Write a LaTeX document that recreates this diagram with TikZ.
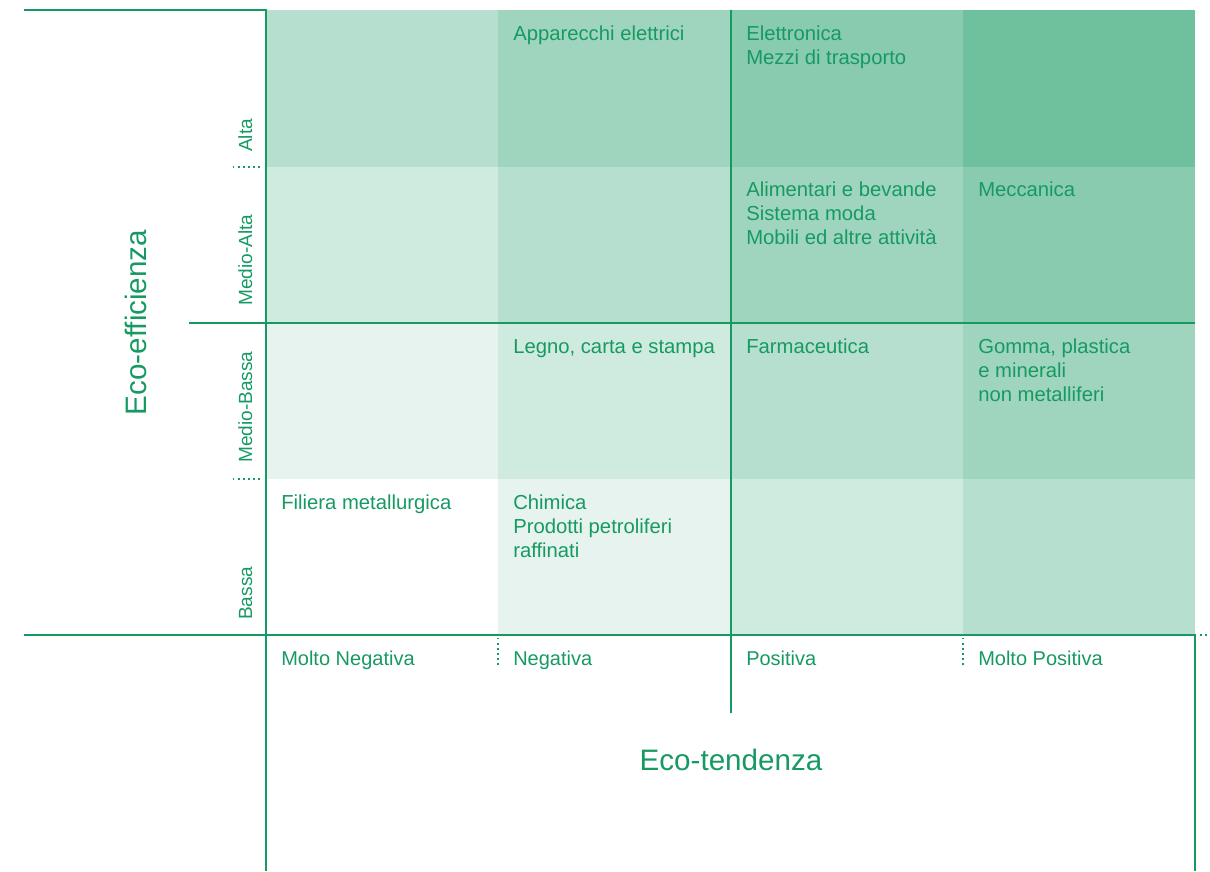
\documentclass[tikz,border=0pt]{standalone}
\usepackage{fontspec}
\setmainfont{Liberation Sans}
\definecolor{eco}{RGB}{22,154,98}
\definecolor{lv1}{HTML}{E6F3EE}
\definecolor{lv2}{HTML}{CFEADF}
\definecolor{lv3}{HTML}{B6DFCF}
\definecolor{lv4}{HTML}{9FD5BF}
\definecolor{lv5}{HTML}{88CBAE}
\definecolor{lv6}{HTML}{6FC09D}
\begin{document}
\begin{tikzpicture}[x=0.75pt,y=-0.75pt,
  axisline/.style={draw=eco,line width=1.5pt},
  dotline/.style={draw=eco,line width=1.2pt,dash pattern=on 1.1pt off 2.7pt},
  celltext/.style={anchor=north west,inner sep=0pt,align=left,text=eco,font=\fontsize{15.2}{18}\selectfont},
  collabel/.style={anchor=north west,inner sep=0pt,text=eco,font=\fontsize{15}{18}\selectfont},
  rowlabel/.style={anchor=base west,rotate=90,inner sep=0pt,text=eco,font=\fontsize{14.3}{17}\selectfont},
  axistitle/.style={anchor=base,inner sep=0pt,text=eco,font=\fontsize{22.2}{26}\selectfont}]
\useasboundingbox (0,0) rectangle (1210,871);
% cell fills
\fill[lv3] (266,10) rectangle (498,167);
\fill[lv4] (498,10) rectangle (731,167);
\fill[lv5] (731,10) rectangle (963,167);
\fill[lv6] (963,10) rectangle (1195,167);
\fill[lv2] (266,167) rectangle (498,323);
\fill[lv3] (498,167) rectangle (731,323);
\fill[lv4] (731,167) rectangle (963,323);
\fill[lv5] (963,167) rectangle (1195,323);
\fill[lv1] (266,323) rectangle (498,479);
\fill[lv2] (498,323) rectangle (731,479);
\fill[lv3] (731,323) rectangle (963,479);
\fill[lv4] (963,323) rectangle (1195,479);
\fill[lv1] (498,479) rectangle (731,635);
\fill[lv2] (731,479) rectangle (963,635);
\fill[lv3] (963,479) rectangle (1195,635);
% coordinates
\coordinate (tl) at (24,10);
\coordinate (tc) at (266,10);
\coordinate (lb) at (266,871);
\coordinate (ml) at (189,323);
\coordinate (mr) at (1195,323);
\coordinate (bl) at (24,635);
\coordinate (br) at (1195,635);
\coordinate (brr) at (1210,635);
\coordinate (rb) at (1195,871);
\coordinate (vt) at (731,10);
\coordinate (vb) at (731,713);
\coordinate (d1a) at (233,167);
\coordinate (d1b) at (263,167);
\coordinate (d2a) at (233,479);
\coordinate (d2b) at (263,479);
\coordinate (d3a) at (498,638);
\coordinate (d3b) at (498,668);
\coordinate (d4a) at (963,638);
\coordinate (d4b) at (963,668);
% lines
\draw[axisline] (tl) -- (tc) -- (lb);
\draw[axisline] (ml) -- (mr);
\draw[axisline] (bl) -- (br) -- (rb);
\draw[axisline] (vt) -- (vb);
\draw[dotline] (br) -- (brr);
\draw[dotline] (d1a) -- (d1b);
\draw[dotline] (d2a) -- (d2b);
\draw[dotline] (d3a) -- (d3b);
\draw[dotline] (d4a) -- (d4b);
% cell texts
\node[celltext] (app) at (513,25.5) {Apparecchi elettrici};
\node[celltext] (ele) at (746,25.5) {Elettronica\\Mezzi di trasporto};
\node[celltext] (ali) at (746,181.5) {Alimentari e bevande\\Sistema moda\\Mobili ed altre attività};
\node[celltext] (mec) at (978,181.5) {Meccanica};
\node[celltext] (leg) at (513,339) {Legno, carta e stampa};
\node[celltext] (far) at (746,339) {Farmaceutica};
\node[celltext] (gom) at (978,339) {Gomma, plastica\\e minerali\\non metalliferi};
\node[celltext] (fil) at (281,494.5) {Filiera metallurgica};
\node[celltext] (chi) at (513,494.5) {Chimica\\Prodotti petroliferi\\raffinati};
% column labels
\node[collabel] (mn) at (281,651) {Molto Negativa};
\node[collabel] (ng) at (513,651) {Negativa};
\node[collabel] (ps) at (746,651) {Positiva};
\node[collabel] (mp) at (978,651) {Molto Positiva};
% row labels
\node[rowlabel] (alta) at (252,152) {Alta};
\node[rowlabel] (malta) at (252,306) {Medio-Alta};
\node[rowlabel] (mbassa) at (252,463) {Medio-Bassa};
\node[rowlabel] (bassa) at (252,620) {Bassa};
% axis titles
\node[axistitle,rotate=90] (effi) at (146,322.5) {Eco-efficienza};
\node[axistitle] (tend) at (731,770) {Eco-tendenza};
\end{tikzpicture}
\end{document}
